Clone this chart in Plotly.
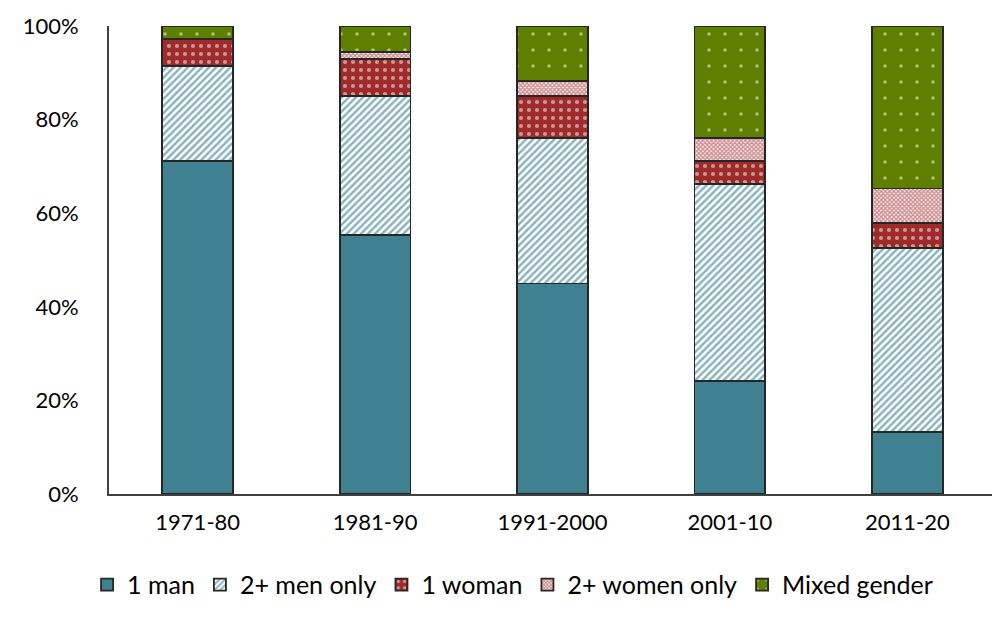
import plotly.graph_objects as go

categories = ["1971-80", "1981-90", "1991-2000", "2001-10", "2011-20"]
one_man = [71.2, 55.4, 45.0, 24.1, 13.3]
men_only = [20.3, 29.6, 31.1, 42.1, 39.3]
one_woman = [5.8, 8.0, 8.9, 5.0, 5.3]
women_only = [0.0, 1.5, 3.2, 4.9, 7.4]
mixed = [2.7, 5.5, 11.8, 23.9, 34.7]
series_names = ["1 man", "2+ men only", "1 woman", "2+ women only", "Mixed gender"]
y_ticks = [0, 20, 40, 60, 80, 100]
y_tick_labels = ["0%", "20%", "40%", "60%", "80%", "100%"]

styles = [
    dict(color="#3f8190"),
    dict(color="#ffffff", pattern=dict(shape="/", fgcolor="#16697b", bgcolor="#ffffff", size=5, solidity=0.5, fillmode="overlay")),
    dict(color="#9e2b2b", pattern=dict(shape=".", fgcolor="#ffffff", bgcolor="#9e2b2b", size=8, solidity=0.22, fillmode="overlay")),
    dict(color="#ffffff", pattern=dict(shape="x", fgcolor="#a01c1c", bgcolor="#ffffff", size=3, solidity=0.7, fillmode="overlay")),
    dict(color="#5f7f00", pattern=dict(shape=".", fgcolor="#ffffff", bgcolor="#5f7f00", size=16, solidity=0.04, fillmode="overlay")),
]
values = [one_man, men_only, one_woman, women_only, mixed]

fig = go.Figure()
for name, vals, mk in zip(series_names, values, styles):
    mk = dict(mk)
    mk["line"] = dict(color="#262626", width=1.8)
    fig.add_trace(go.Bar(name=name, x=categories, y=vals, marker=mk, width=0.4))

fig.update_layout(
    barmode="stack",
    width=992, height=609,
    margin=dict(l=101, r=4, t=13, b=123),
    plot_bgcolor="white", paper_bgcolor="white",
    font=dict(family="Lato, Open Sans, sans-serif", size=22, color="#000000"),
    showlegend=True,
    legend=dict(orientation="h", x=0.455, xanchor="center", y=-0.145, yanchor="top",
                font=dict(size=25), itemwidth=30, traceorder="normal", tracegroupgap=0),
)
fig.update_xaxes(type="category", showline=True, linecolor="#404040", linewidth=2, ticks="", showgrid=False,
                 ticklabelstandoff=8)
fig.update_yaxes(range=[0, 100], tickvals=y_ticks, ticktext=y_tick_labels, showline=True,
                 linecolor="#404040", linewidth=2, ticks="", showgrid=False, zeroline=False,
                 ticklabelstandoff=24, ticklabeloverflow="allow")

fig.write_html("out.html")
